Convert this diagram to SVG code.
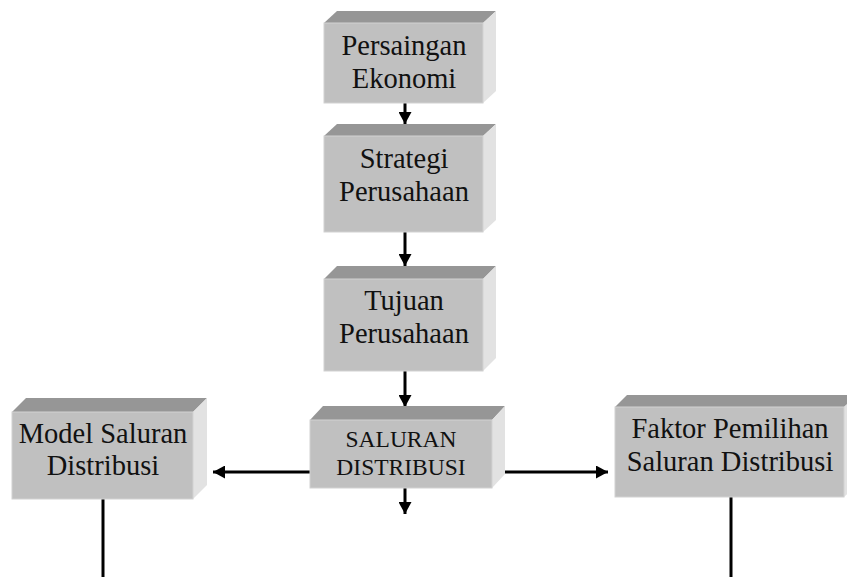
<svg xmlns="http://www.w3.org/2000/svg" width="847" height="577" viewBox="0 0 847 577">
<defs>
<style>
.front{fill:#c0c0c0;stroke:#d2d2d2;stroke-width:1}
.top{fill:#969696}
.side{fill:#e2e2e2}
.lbl{font-family:"Liberation Serif","Times New Roman",serif;font-size:28.5px;fill:#111;text-anchor:middle}
.small{font-size:23.5px}
.conn{stroke:#000;stroke-width:3;fill:none}
</style>
<marker id="ah" markerUnits="userSpaceOnUse" markerWidth="13" markerHeight="13" refX="12" refY="6.5" orient="auto">
<path d="M0,0 L12,6.5 L0,13 z" fill="#000"/>
</marker>
</defs>
<rect width="847" height="577" fill="#fff"/>

<g id="connectors">
<line class="conn" x1="405" y1="103" x2="405" y2="124" marker-end="url(#ah)"/>
<line class="conn" x1="405" y1="232" x2="405" y2="266" marker-end="url(#ah)"/>
<line class="conn" x1="405" y1="371" x2="405" y2="407" marker-end="url(#ah)"/>
<line class="conn" x1="310" y1="472" x2="213" y2="472" marker-end="url(#ah)"/>
<line class="conn" x1="505" y1="472" x2="608" y2="472" marker-end="url(#ah)"/>
<line class="conn" x1="405" y1="488" x2="405" y2="514" marker-end="url(#ah)"/>
<line class="conn" x1="103" y1="499" x2="103" y2="577"/>
<line class="conn" x1="731" y1="497" x2="731" y2="577"/>
</g>

<g id="persaingan">
<polygon class="top" points="324,23 337,11 496,11 483,23"/>
<polygon class="side" points="483,23 496,11 496,91 483,103"/>
<rect class="front" x="324" y="23" width="159" height="80"/>
<text class="lbl" x="404" y="55">Persaingan</text>
<text class="lbl" x="404" y="88">Ekonomi</text>
</g>

<g id="strategi">
<polygon class="top" points="324,136 337,124 496,124 483,136"/>
<polygon class="side" points="483,136 496,124 496,220 483,232"/>
<rect class="front" x="324" y="136" width="159" height="96"/>
<text class="lbl" x="404" y="168">Strategi</text>
<text class="lbl" x="404" y="201">Perusahaan</text>
</g>

<g id="tujuan">
<polygon class="top" points="324,279 337,266 496,266 483,279"/>
<polygon class="side" points="483,279 496,266 496,358 483,371"/>
<rect class="front" x="324" y="279" width="159" height="92"/>
<text class="lbl" x="404" y="310">Tujuan</text>
<text class="lbl" x="404" y="343">Perusahaan</text>
</g>

<g id="saluran">
<polygon class="top" points="310,420 323,406 505,406 492,420"/>
<polygon class="side" points="492,420 505,406 505,474 492,488"/>
<rect class="front" x="310" y="420" width="182" height="68"/>
<text class="lbl small" x="401" y="447">SALURAN</text>
<text class="lbl small" x="401" y="475">DISTRIBUSI</text>
</g>

<g id="model">
<polygon class="top" points="12,412 26,398 207,398 193,412"/>
<polygon class="side" points="193,412 207,398 207,485 193,499"/>
<rect class="front" x="12" y="412" width="181" height="87"/>
<text class="lbl" x="103" y="443">Model Saluran</text>
<text class="lbl" x="103" y="475">Distribusi</text>
</g>

<g id="faktor">
<polygon class="top" points="615,407 627,395 857,395 844,407"/>
<polygon class="side" points="844,407 857,395 857,485 844,497"/>
<rect class="front" x="615" y="407" width="229" height="90"/>
<text class="lbl" x="730" y="438">Faktor Pemilihan</text>
<text class="lbl" x="730" y="471">Saluran Distribusi</text>
</g>
</svg>
